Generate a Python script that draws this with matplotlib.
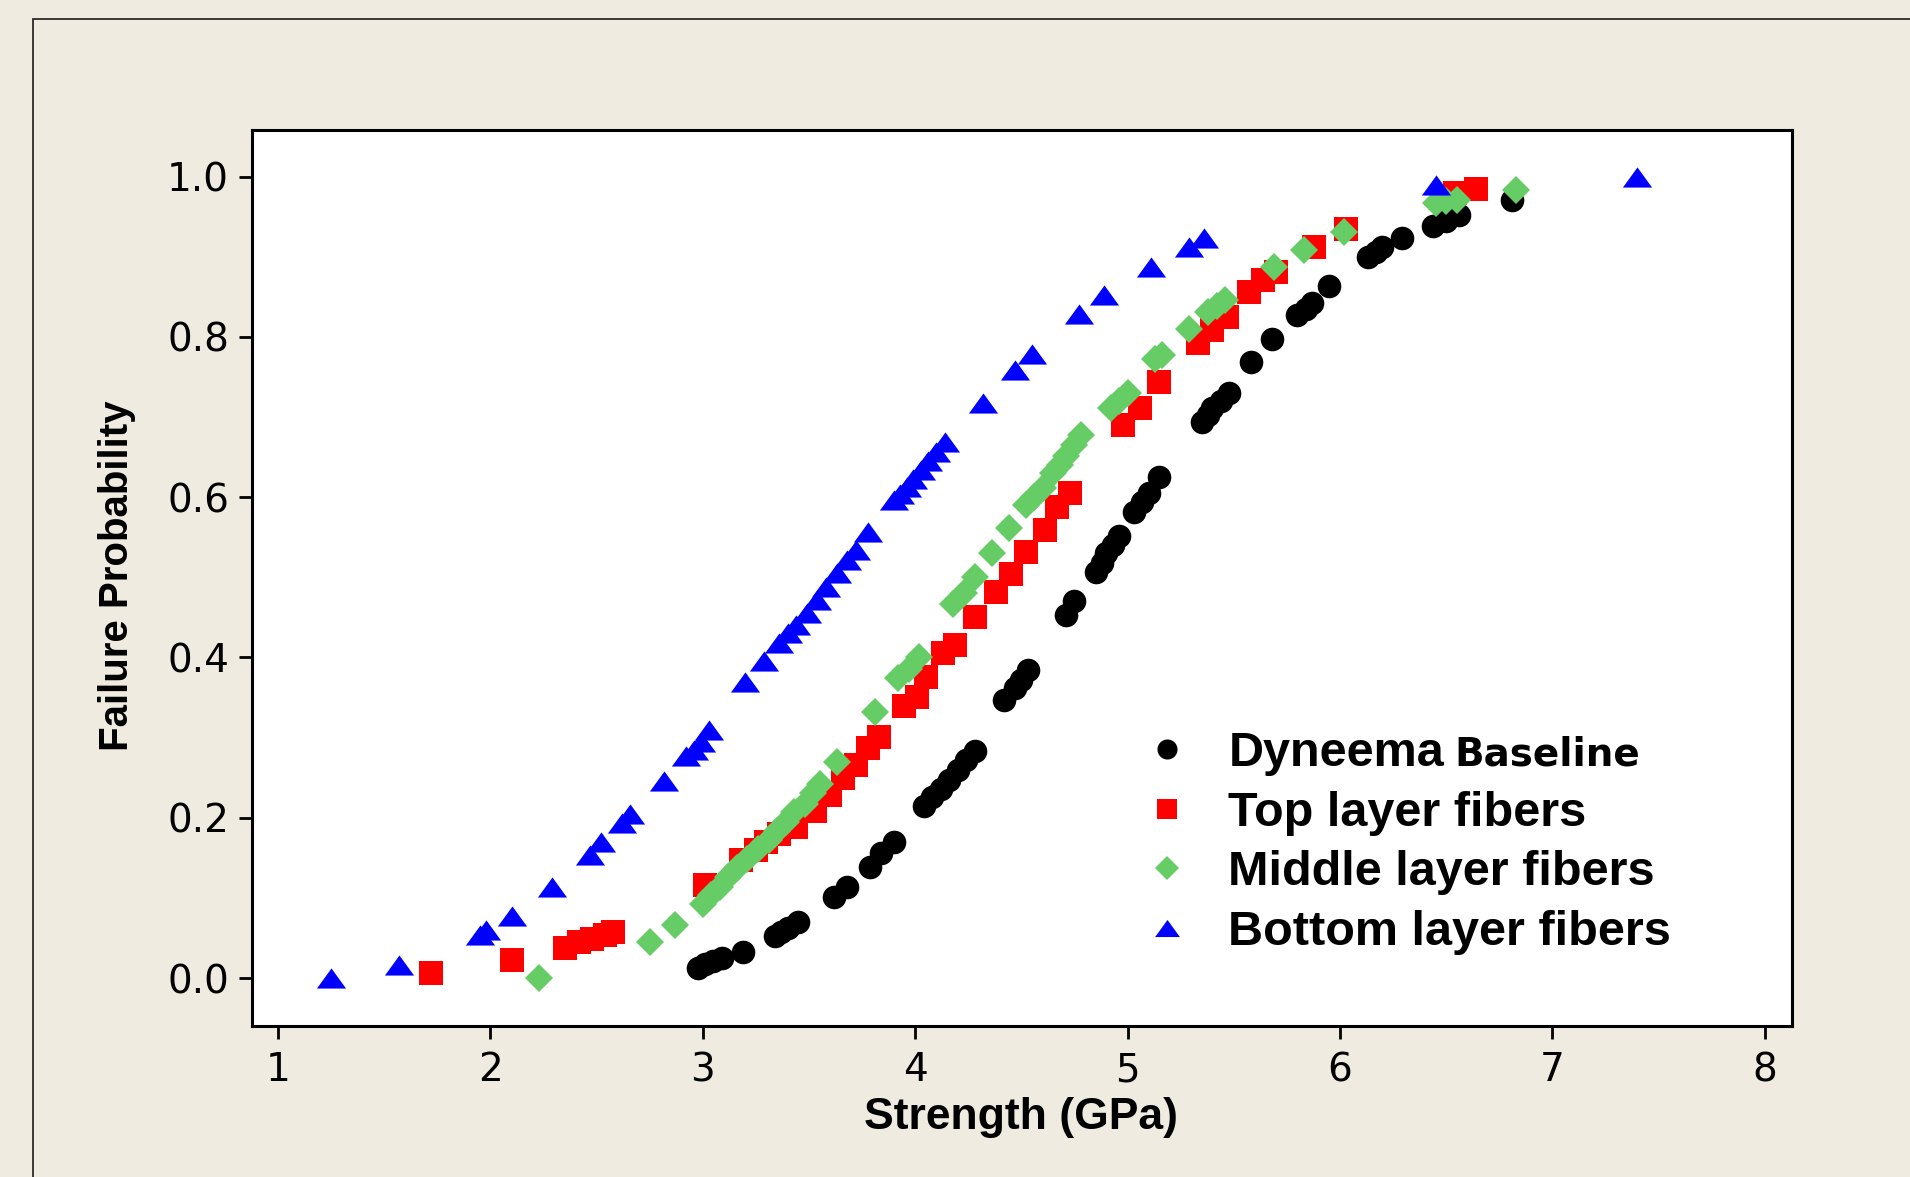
'''Failure probability of Dyneema fibers versus strength.

'''

import matplotlib
matplotlib.use('Agg')
import matplotlib.pyplot as plt
from matplotlib.patches import Rectangle
from matplotlib.path import Path
from matplotlib.transforms import IdentityTransform

# Dyneema baseline (black circles)
baseline_strength = [2.98, 3.01, 3.05, 3.09, 3.19, 3.34, 3.37, 3.40, 3.45, 3.62,
                     3.68, 3.79, 3.84, 3.90, 4.04, 4.08, 4.12, 4.16, 4.20, 4.24,
                     4.28, 4.42, 4.47, 4.50, 4.53, 4.71, 4.75, 4.85, 4.88, 4.90,
                     4.93, 4.96, 5.03, 5.07, 5.10, 5.15, 5.35, 5.38, 5.40, 5.44,
                     5.48, 5.58, 5.68, 5.80, 5.84, 5.87, 5.95, 6.13, 6.17, 6.20,
                     6.29, 6.44, 6.50, 6.56, 6.81]
baseline_prob = [0.012, 0.017, 0.021, 0.025, 0.033, 0.052, 0.057, 0.062, 0.070, 0.101,
                 0.114, 0.139, 0.156, 0.170, 0.215, 0.226, 0.236, 0.247, 0.260, 0.272,
                 0.283, 0.347, 0.362, 0.372, 0.384, 0.453, 0.470, 0.507, 0.518, 0.530,
                 0.540, 0.551, 0.582, 0.594, 0.605, 0.625, 0.694, 0.703, 0.711, 0.720,
                 0.730, 0.769, 0.798, 0.827, 0.835, 0.842, 0.863, 0.900, 0.906, 0.912,
                 0.923, 0.939, 0.945, 0.952, 0.971]

# Top layer fibers (red squares)
top_strength = [1.72, 2.10, 2.35, 2.42, 2.48, 2.54, 2.58, 3.01, 3.18, 3.25,
                3.30, 3.36, 3.44, 3.53, 3.60, 3.66, 3.72, 3.78, 3.83, 3.95,
                4.01, 4.05, 4.13, 4.19, 4.28, 4.38, 4.45, 4.52, 4.61, 4.67,
                4.73, 4.98, 5.06, 5.15, 5.33, 5.40, 5.47, 5.57, 5.64, 5.70,
                5.88, 6.03, 6.54, 6.64]
top_prob = [0.006, 0.022, 0.038, 0.045, 0.049, 0.054, 0.058, 0.116, 0.147, 0.160,
            0.170, 0.180, 0.188, 0.208, 0.229, 0.250, 0.266, 0.287, 0.301, 0.339,
            0.351, 0.376, 0.405, 0.415, 0.450, 0.482, 0.504, 0.532, 0.559, 0.588,
            0.605, 0.690, 0.711, 0.744, 0.792, 0.808, 0.825, 0.856, 0.871, 0.881,
            0.912, 0.935, 0.980, 0.985]

# Middle layer fibers (green diamonds)
middle_strength = [2.23, 2.75, 2.87, 3.00, 3.04, 3.08, 3.12, 3.16, 3.21, 3.26,
                   3.31, 3.35, 3.39, 3.43, 3.48, 3.52, 3.55, 3.63, 3.81, 3.92,
                   3.97, 4.02, 4.18, 4.23, 4.28, 4.36, 4.44, 4.52, 4.56, 4.60,
                   4.65, 4.68, 4.71, 4.75, 4.78, 4.92, 4.96, 5.00, 5.13, 5.16,
                   5.29, 5.38, 5.42, 5.46, 5.69, 5.83, 6.02, 6.45, 6.50, 6.55,
                   6.83]
middle_prob = [0.000, 0.045, 0.066, 0.092, 0.103, 0.114, 0.126, 0.137, 0.149, 0.161,
               0.172, 0.184, 0.195, 0.207, 0.217, 0.231, 0.242, 0.269, 0.332, 0.374,
               0.386, 0.401, 0.467, 0.480, 0.500, 0.530, 0.561, 0.590, 0.600, 0.611,
               0.630, 0.640, 0.652, 0.665, 0.677, 0.711, 0.720, 0.730, 0.773, 0.778,
               0.810, 0.831, 0.838, 0.846, 0.887, 0.908, 0.931, 0.967, 0.969, 0.971,
               0.983]

# Bottom layer fibers (blue triangles)
bottom_strength = [1.25, 1.57, 1.95, 1.98, 2.10, 2.29, 2.47, 2.52, 2.62, 2.66,
                   2.82, 2.92, 2.96, 2.99, 3.03, 3.20, 3.29, 3.36, 3.40, 3.44,
                   3.49, 3.54, 3.58, 3.63, 3.68, 3.72, 3.78, 3.90, 3.93, 3.96,
                   3.99, 4.03, 4.06, 4.10, 4.14, 4.32, 4.47, 4.55, 4.77, 4.89,
                   5.11, 5.29, 5.36, 6.45, 7.40]
bottom_prob = [0.000, 0.016, 0.054, 0.060, 0.078, 0.113, 0.154, 0.170, 0.194, 0.205,
               0.246, 0.277, 0.285, 0.294, 0.310, 0.369, 0.395, 0.418, 0.430, 0.440,
               0.455, 0.472, 0.488, 0.505, 0.522, 0.534, 0.557, 0.596, 0.604, 0.613,
               0.623, 0.634, 0.645, 0.656, 0.669, 0.717, 0.759, 0.779, 0.829, 0.852,
               0.887, 0.912, 0.923, 0.989, 1.000]

xticks = [1, 2, 3, 4, 5, 6, 7, 8]
yticks = [0.0, 0.2, 0.4, 0.6, 0.8, 1.0]

BACKGROUND = '#EFEBE0'
TICK_FONT = 'DejaVu Sans'
LABEL_FONT = 'Liberation Sans'


def triangle_marker():
    '''A flattened up-pointing triangle, as drawn by the original software.'''
    verts = [(-1.0, -0.69), (1.0, -0.69), (0.0, 0.69), (-1.0, -0.69)]
    codes = [Path.MOVETO, Path.LINETO, Path.LINETO, Path.CLOSEPOLY]
    return Path(verts, codes)


def failure_plot(filename='out.png'):
    '''Plot failure probability against fiber strength.'''
    fig = plt.figure(figsize=(19.1, 11.77), dpi=100, facecolor=BACKGROUND)

    # outer frame of the exported graph window
    fig.patches.append(Rectangle((33/1910, -0.5), 2.0, 1.5 - 19/1177,
                                 transform=fig.transFigure, fill=False,
                                 edgecolor='#2b2b2b', linewidth=1.3))

    ax = fig.add_axes([0.1319, 0.1286, 0.8063, 0.7607])
    ax.set_facecolor('white')

    ax.plot(baseline_strength, baseline_prob, linestyle='none', marker='o',
            color='black', markersize=17, markeredgewidth=0, label='Dyneema')
    ax.plot(top_strength, top_prob, linestyle='none', marker='s',
            color='#FF0000', markersize=17, markeredgewidth=0, label='Top layer fibers')
    ax.plot(middle_strength, middle_prob, linestyle='none', marker='D',
            color='#66CC66', markersize=14.5, markeredgewidth=0, label='Middle layer fibers')
    ax.plot(bottom_strength, bottom_prob, linestyle='none', marker=triangle_marker(),
            color='#0000FF', markersize=21, markeredgewidth=0, label='Bottom layer fibers')

    ax.set_xlim(0.878, 8.128)
    ax.set_ylim(-0.0594, 1.0578)
    ax.set_xticks(xticks)
    ax.set_xticklabels([str(t) for t in xticks], fontsize=28, family=TICK_FONT)
    ax.set_yticks(yticks)
    ax.set_yticklabels(['%.1f' % t for t in yticks], fontsize=28, family=TICK_FONT)
    ax.tick_params(direction='out', length=9.5, width=2, colors='black')
    ax.tick_params(axis='x', pad=9)
    ax.tick_params(axis='y', pad=7)
    for spine in ax.spines.values():
        spine.set_linewidth(2.2)

    ax.set_xlabel('Strength (GPa)', fontsize=32, fontweight='bold', family=LABEL_FONT)
    ax.xaxis.set_label_coords(0.4994, -0.080)
    ax.set_ylabel('Failure Probability', fontsize=29, fontweight='bold', family=LABEL_FONT)
    ax.yaxis.set_label_coords(-0.075, 0.502)

    legend = ax.legend(loc='upper left', bbox_to_anchor=(1143/1910, 1 - 731/1177),
                       bbox_transform=fig.transFigure, frameon=False,
                       numpoints=1, markerscale=0.85, handlelength=1.0,
                       handletextpad=0.755, borderpad=0, borderaxespad=0,
                       labelspacing=0.30,
                       prop={'family': LABEL_FONT, 'weight': 'bold', 'size': 35})

    # 'Baseline' is set in a smaller font right after 'Dyneema'
    fig.canvas.draw()
    renderer = fig.canvas.get_renderer()
    first = legend.get_texts()[0]
    bbox = first.get_window_extent(renderer)
    _, _, descent = renderer.get_text_width_height_descent(
        'lp', first.get_fontproperties(), ismath=False)
    fig.text(bbox.x1 + 10, bbox.y0 + descent, 'Baseline', transform=IdentityTransform(),
             fontsize=28, fontweight='bold', family='DejaVu Sans',
             ha='left', va='baseline')

    fig.savefig(filename, dpi=100, facecolor=fig.get_facecolor())
    return


if __name__ == '__main__':
    failure_plot()
